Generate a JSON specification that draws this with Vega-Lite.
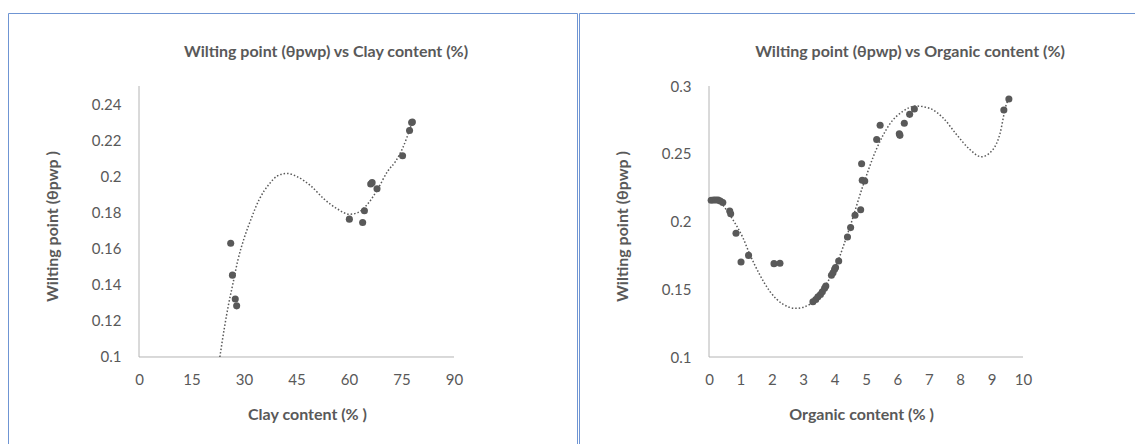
{
  "$schema": "https://vega.github.io/schema/vega-lite/v6.json",
  "padding": {"left": 7, "top": 12, "right": 0, "bottom": 0},
  "autosize": {"type": "pad"},
  "background": "white",
  "spacing": 0,
  "config": {
    "view": {"stroke": "#6f95d3", "strokeWidth": 1},
    "font": "Lato",
    "axis": {
      "grid": false, "domain": false, "ticks": false, "tickSize": 0,
      "labelColor": "#595959", "labelFontSize": 15, "labelFont": "Lato",
      "titleColor": "#595959", "titleFontSize": 16, "titleFontWeight": "bold", "titleFont": "Lato",
      "minExtent": 0, "maxExtent": 0, "labelFlush": false
    },
    "title": {"color": "#595959", "fontSize": 16, "fontWeight": "bold", "font": "Lato"}
  },
  "datasets": {
    "axisLine": [{"part": "axis"}],
    "clay": [
      {"clay": 26.2, "wp": 0.163}, {"clay": 26.7, "wp": 0.1453}, {"clay": 27.5, "wp": 0.1321},
      {"clay": 27.9, "wp": 0.1283}, {"clay": 60.1, "wp": 0.1763}, {"clay": 63.9, "wp": 0.1744},
      {"clay": 64.4, "wp": 0.1809}, {"clay": 66.2, "wp": 0.1958}, {"clay": 66.6, "wp": 0.1965},
      {"clay": 68.0, "wp": 0.1931}, {"clay": 75.3, "wp": 0.2114}, {"clay": 77.3, "wp": 0.2254},
      {"clay": 77.9, "wp": 0.2298}, {"clay": 78.1, "wp": 0.23}
    ],
    "clayTrend": [
      {"clay": 23.1, "wp": 0.1}, {"clay": 24.4, "wp": 0.1162}, {"clay": 25.6, "wp": 0.1292},
      {"clay": 26.8, "wp": 0.1403}, {"clay": 28.2, "wp": 0.1532}, {"clay": 30.1, "wp": 0.1661},
      {"clay": 32.0, "wp": 0.1763}, {"clay": 34.4, "wp": 0.1874}, {"clay": 37.2, "wp": 0.1957},
      {"clay": 39.6, "wp": 0.2003}, {"clay": 42.3, "wp": 0.2016}, {"clay": 45.3, "wp": 0.1997},
      {"clay": 49.1, "wp": 0.1947}, {"clay": 52.9, "wp": 0.1874}, {"clay": 56.8, "wp": 0.1818},
      {"clay": 60.1, "wp": 0.179}, {"clay": 62.5, "wp": 0.1799}, {"clay": 65.3, "wp": 0.1846},
      {"clay": 68.2, "wp": 0.1929}, {"clay": 71.1, "wp": 0.203}, {"clay": 73.2, "wp": 0.208},
      {"clay": 75.3, "wp": 0.2155}, {"clay": 77.9, "wp": 0.229}
    ],
    "organic": [
      {"org": 0.07, "wp": 0.2157}, {"org": 0.15, "wp": 0.2159}, {"org": 0.22, "wp": 0.2159},
      {"org": 0.29, "wp": 0.2158}, {"org": 0.36, "wp": 0.2152}, {"org": 0.44, "wp": 0.214},
      {"org": 0.66, "wp": 0.2078}, {"org": 0.69, "wp": 0.2058}, {"org": 0.86, "wp": 0.1913},
      {"org": 1.02, "wp": 0.1701}, {"org": 1.26, "wp": 0.175}, {"org": 2.07, "wp": 0.1689},
      {"org": 2.26, "wp": 0.1692}, {"org": 3.31, "wp": 0.1408}, {"org": 3.40, "wp": 0.1425},
      {"org": 3.47, "wp": 0.1445}, {"org": 3.55, "wp": 0.1462}, {"org": 3.61, "wp": 0.1482},
      {"org": 3.68, "wp": 0.1507}, {"org": 3.72, "wp": 0.1524}, {"org": 3.90, "wp": 0.1603},
      {"org": 3.95, "wp": 0.1622}, {"org": 4.00, "wp": 0.1647}, {"org": 4.03, "wp": 0.166},
      {"org": 4.13, "wp": 0.1709}, {"org": 4.41, "wp": 0.1886}, {"org": 4.51, "wp": 0.1955},
      {"org": 4.65, "wp": 0.2046}, {"org": 4.83, "wp": 0.2087}, {"org": 4.86, "wp": 0.2427},
      {"org": 4.88, "wp": 0.2304}, {"org": 4.96, "wp": 0.2299}, {"org": 5.34, "wp": 0.2606},
      {"org": 5.45, "wp": 0.271}, {"org": 6.06, "wp": 0.2648}, {"org": 6.08, "wp": 0.2636},
      {"org": 6.22, "wp": 0.2725}, {"org": 6.39, "wp": 0.2791}, {"org": 6.54, "wp": 0.283},
      {"org": 9.39, "wp": 0.2823}, {"org": 9.55, "wp": 0.2904}
    ],
    "organicTrend": [
      {"org": 0.07, "wp": 0.217}, {"org": 0.4, "wp": 0.213}, {"org": 0.72, "wp": 0.2028},
      {"org": 1.08, "wp": 0.188}, {"org": 1.30, "wp": 0.1758}, {"org": 1.61, "wp": 0.161},
      {"org": 1.93, "wp": 0.1487}, {"org": 2.36, "wp": 0.1389}, {"org": 2.78, "wp": 0.1359},
      {"org": 3.21, "wp": 0.1389}, {"org": 3.63, "wp": 0.15}, {"org": 4.06, "wp": 0.1684},
      {"org": 4.48, "wp": 0.1955}, {"org": 4.90, "wp": 0.2262}, {"org": 5.33, "wp": 0.2533},
      {"org": 5.75, "wp": 0.2717}, {"org": 6.18, "wp": 0.2815}, {"org": 6.60, "wp": 0.2852},
      {"org": 7.03, "wp": 0.2835}, {"org": 7.45, "wp": 0.2766}, {"org": 7.88, "wp": 0.2643},
      {"org": 8.30, "wp": 0.2533}, {"org": 8.67, "wp": 0.2478}, {"org": 9.05, "wp": 0.2533},
      {"org": 9.26, "wp": 0.2643}, {"org": 9.47, "wp": 0.2865}, {"org": 9.58, "wp": 0.2914}
    ]
  },
  "hconcat": [
    {
      "width": 569,
      "height": 432,
      "title": {"text": "Wilting point (θpwp) vs Clay content (%)", "anchor": "middle", "frame": "group", "offset": -47, "dx": 33.5},
      "layer": [
        {
          "data": {"name": "axisLine"},
          "mark": {"type": "rule", "color": "#b4b4b4", "strokeWidth": 1},
          "encoding": {
            "x": {"datum": 0, "type": "quantitative", "scale": {"domain": [-37.43, 125.14], "nice": false, "zero": false}},
            "x2": {"datum": 90},
            "y": {"datum": 0.1, "type": "quantitative", "scale": {"domain": [0.05129, 0.2904], "nice": false, "zero": false}}
          }
        },
        {
          "data": {"name": "axisLine"},
          "mark": {"type": "rule", "color": "#b4b4b4", "strokeWidth": 1},
          "encoding": {
            "x": {"datum": 0, "type": "quantitative"},
            "y": {"datum": 0.1, "type": "quantitative"},
            "y2": {"datum": 0.25}
          }
        },
        {
          "data": {"name": "clayTrend"},
          "mark": {"type": "line", "color": "#595959", "strokeWidth": 1.5, "strokeDash": [1.5, 2], "interpolate": "monotone"},
          "encoding": {
            "x": {"field": "clay", "type": "quantitative"},
            "y": {"field": "wp", "type": "quantitative"}
          }
        },
        {
          "data": {"name": "clay"},
          "mark": {"type": "circle", "color": "#595959", "opacity": 1, "size": 50},
          "encoding": {
            "x": {
              "field": "clay", "type": "quantitative",
              "scale": {"domain": [-37.43, 125.14], "nice": false, "zero": false},
              "axis": {"values": [0, 15, 30, 45, 60, 75, 90], "title": "Clay content (% )", "offset": -88, "labelPadding": 15, "titleX": 299, "titleY": 57, "titleBaseline": "middle", "titleAlign": "center"}
            },
            "y": {
              "field": "wp", "type": "quantitative",
              "scale": {"domain": [0.05129, 0.2904], "nice": false, "zero": false},
              "axis": {"values": [0.1, 0.12, 0.14, 0.16, 0.18, 0.2, 0.22, 0.24], "format": "~g", "title": "Wilting point (θpwp )", "offset": -131, "labelPadding": 18, "titleX": -87, "titleY": 213, "titleAngle": -90, "titleAlign": "center", "titleBaseline": "middle"}
            }
          }
        }
      ]
    },
    {
      "width": 559,
      "height": 432,
      "title": {"text": "Wilting point (θpwp) vs Organic content (%)", "anchor": "middle", "frame": "group", "offset": -47, "dx": 51.5},
      "layer": [
        {
          "data": {"name": "axisLine"},
          "mark": {"type": "rule", "color": "#b4b4b4", "strokeWidth": 1},
          "encoding": {
            "x": {"datum": 0, "type": "quantitative", "scale": {"domain": [-4.14, 13.662], "nice": false, "zero": false}},
            "x2": {"datum": 10},
            "y": {"datum": 0.1, "type": "quantitative", "scale": {"domain": [0.03506, 0.3539], "nice": false, "zero": false}}
          }
        },
        {
          "data": {"name": "axisLine"},
          "mark": {"type": "rule", "color": "#b4b4b4", "strokeWidth": 1},
          "encoding": {
            "x": {"datum": 0, "type": "quantitative"},
            "y": {"datum": 0.1, "type": "quantitative"},
            "y2": {"datum": 0.3}
          }
        },
        {
          "data": {"name": "organicTrend"},
          "mark": {"type": "line", "color": "#595959", "strokeWidth": 1.5, "strokeDash": [1.5, 2], "interpolate": "monotone"},
          "encoding": {
            "x": {"field": "org", "type": "quantitative"},
            "y": {"field": "wp", "type": "quantitative"}
          }
        },
        {
          "data": {"name": "organic"},
          "mark": {"type": "circle", "color": "#595959", "opacity": 1, "size": 50},
          "encoding": {
            "x": {
              "field": "org", "type": "quantitative",
              "scale": {"domain": [-4.14, 13.662], "nice": false, "zero": false},
              "axis": {"values": [0, 1, 2, 3, 4, 5, 6, 7, 8, 9, 10], "title": "Organic content (% )", "offset": -88, "labelPadding": 15, "titleX": 282, "titleY": 57, "titleBaseline": "middle", "titleAlign": "center"}
            },
            "y": {
              "field": "wp", "type": "quantitative",
              "scale": {"domain": [0.03506, 0.3539], "nice": false, "zero": false},
              "axis": {"values": [0.1, 0.15, 0.2, 0.25, 0.3], "format": "~g", "title": "Wilting point (θpwp )", "offset": -130, "labelPadding": 18, "titleX": -87, "titleY": 213, "titleAngle": -90, "titleAlign": "center", "titleBaseline": "middle"}
            }
          }
        }
      ]
    }
  ]
}
